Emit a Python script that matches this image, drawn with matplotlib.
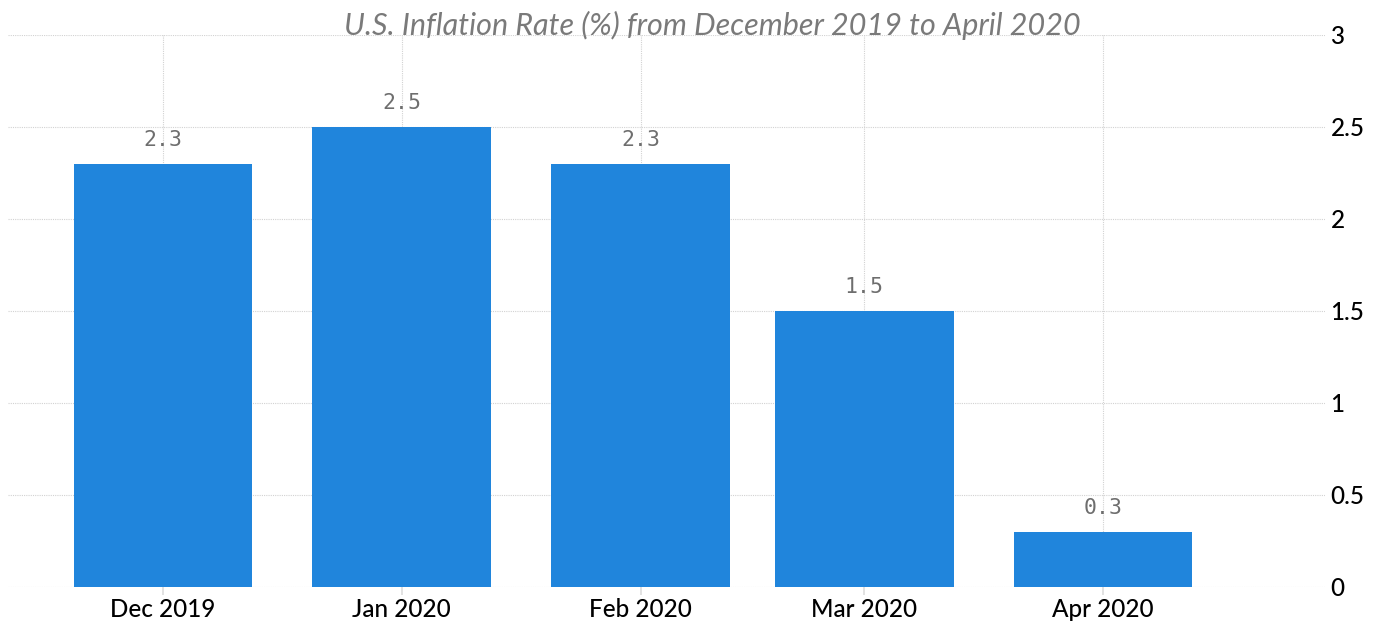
import pandas as pd
import matplotlib
matplotlib.use('Agg')
import matplotlib.pyplot as plt
import matplotlib.dates as mdates

months = ['2019-12-01', '2020-01-01', '2020-02-01', '2020-03-01', '2020-04-01']
rates = [2.3, 2.5, 2.3, 1.5, 0.3]
yticks = [0, 0.5, 1, 1.5, 2, 2.5, 3]
ytick_labels = ['0', '0.5', '1', '1.5', '2', '2.5', '3']
title = 'U.S. Inflation Rate (%) from December 2019 to April 2020'

dates = pd.to_datetime(months)

fig = plt.figure(figsize=(13.8, 6.22), dpi=100)
ax = fig.add_axes([8 / 1380, 1 - 587 / 622, (1325 - 8) / 1380, (587 - 35) / 622])

ax.bar(dates, rates, width=23.2, color='#2085dc', zorder=3)

for d, r in zip(dates, rates):
    ax.annotate(f'{r:g}', (d, r), xytext=(0, 10), textcoords='offset points',
                ha='center', va='bottom', fontsize=15.5, color='#6e6e6e',
                family='DejaVu Sans Mono', zorder=4)

ax.set_xlim(dates[0] - pd.Timedelta(days=20.1), dates[0] + pd.Timedelta(days=150.8))
ax.set_ylim(0, 3)
ax.set_xticks(dates)
ax.xaxis.set_major_formatter(mdates.DateFormatter('%b %Y'))
ax.set_yticks(yticks)
ax.set_yticklabels(ytick_labels)

ax.yaxis.tick_right()
ax.tick_params(axis='y', length=0, pad=4, labelsize=17.5, labelcolor='black')
ax.tick_params(axis='x', length=6, color='#dddddd', width=1.2, pad=2,
               labelsize=17.5, labelcolor='black')
for lab in ax.get_xticklabels() + ax.get_yticklabels():
    lab.set_family('Lato')
    lab.set_fontweight('medium')

for s in ax.spines.values():
    s.set_visible(False)

ax.grid(True, axis='both', color='#d2d2d2', linestyle=(0, (1, 1)), linewidth=0.8, zorder=0)
ax.set_axisbelow(True)

fig.text(712 / 1380, 1 - 25 / 622, title, ha='center', va='center',
         fontsize=22, style='italic', color='#7a7a7a', family='Lato')

fig.savefig('out.png', dpi=100)
